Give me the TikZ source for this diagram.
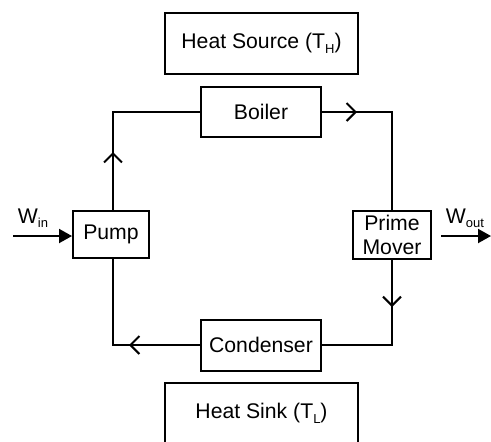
\documentclass[tikz,border=0pt]{standalone}
\usepackage{fontspec}
\setmainfont{Liberation Sans}
\usetikzlibrary{arrows.meta}
\newcommand\subtx[1]{\raisebox{-0.4ex}{\fontsize{6.5}{7}\selectfont #1}}
\tikzset{
  box/.style={draw, line width=1pt, inner sep=0pt, align=center, font=\fontsize{10.6}{11.5}\selectfont},
  pipe/.style={line width=1pt},
  flow/.style={line width=1pt, -{Straight Barb[length=4.5pt,width=9pt,line width=1pt]}},
  work/.style={line width=1pt, -{Triangle[length=6.5pt,width=7pt]}},
  lbl/.style={inner sep=0pt, font=\fontsize{10.6}{11.5}\selectfont}
}
\begin{document}
\begin{tikzpicture}[x=0.5pt,y=-0.5pt]
\clip (0,0) rectangle (491,441);
\useasboundingbox (0,0) rectangle (491,441);
\node[box, minimum width=96.5pt, minimum height=30.5pt] (source) at (261.5,43.5) {Heat Source (T\subtx{H})};
\node[box, minimum width=60pt, minimum height=25pt] (boiler) at (261,112) {Boiler};
\node[box, minimum width=38pt, minimum height=23.5pt] (pump) at (111,234.5) {Pump};
\node[box, minimum width=39pt, minimum height=24pt] (pm) at (392,235) {Prime\\[0.5pt]Mover};
\node[box, minimum width=60pt, minimum height=25.5pt] (cond) at (261,345) {Condenser};
\node[box, minimum width=96.5pt, minimum height=30.5pt] (sink) at (261.5,413.5) {Heat Sink (T\subtx{L})};
\coordinate (tl) at (113,112);
\coordinate (tr) at (392,112);
\coordinate (br) at (392,345);
\coordinate (bl) at (113,345);
\coordinate (a1) at (357,112);
\coordinate (a2) at (392,307);
\coordinate (a3) at (129,345);
\coordinate (a4) at (113,152);
\coordinate (winS) at (13,236);
\coordinate (woutE) at (491,236);
\coordinate (woutS) at (441,236);
% loop
\draw[pipe] (boiler.east) -- (tr) -- (pm.north);
\draw[pipe] (pm.south) -- (br) -- (cond.east);
\draw[pipe] (cond.west) -- (bl) -- (pump.south -| bl);
\draw[pipe] (pump.north -| tl) -- (tl) -- (boiler.west);
% direction arrows
\draw[flow] (boiler.east) -- (a1);
\draw[flow] (pm.south) -- (a2);
\draw[flow] (cond.west) -- (a3);
\draw[flow] (pump.north -| tl) -- (a4);
% work
\draw[work] (winS) -- (pump.west |- winS);
\draw[work] (woutS) -- (woutE);
\node[lbl] (win) at (33,218) {W\subtx{in}};
\node[lbl] (wout) at (465,218) {W\subtx{out}};
\end{tikzpicture}
\end{document}
